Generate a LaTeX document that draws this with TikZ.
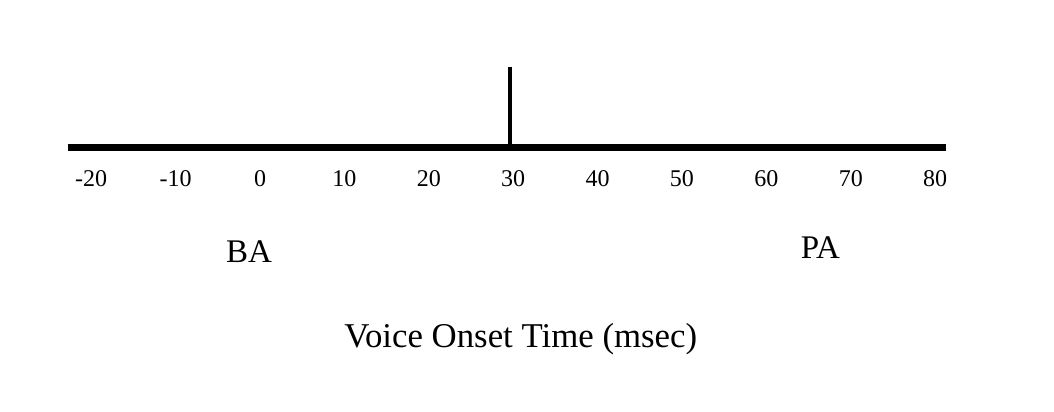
\documentclass[tikz,border=0pt]{standalone}
\usepackage{fontspec}
\setmainfont{Liberation Serif}
\usepackage{tikz}

\begin{document}
\begin{tikzpicture}[x=4.22pt,y=-0.5pt]
  \useasboundingbox (-30.81,0) rectangle (94.08,412);

  % Axis
  \coordinate (axl) at (-22.8,148);
  \coordinate (axr) at (81.3,148);
  \draw[line width=3.5pt] (axl) -- (axr);

  % Boundary at 30 msec
  \coordinate (bnd) at (29.6,67);
  \coordinate (bndbase) at (29.6,148);
  \draw[line width=2pt] (bnd) -- (bndbase);

  % Tick labels
  \foreach \x/\lab in {-20/-20,-10/-10,0/0,10/10,20/20,30/30,40/40,50/50,60/60,70/70,80/80}
    \node[font=\fontsize{12}{14}\selectfont] (lab\x) at (\x,179) {\lab};

  % Categories
  \node[font=\fontsize{16.5}{20}\selectfont] (ba) at (-1.3,252) {BA};
  \node[font=\fontsize{16.5}{20}\selectfont] (pa) at (66.4,248) {PA};

  \node[font=\fontsize{17.4}{20}\selectfont] (title) at (30.9,339) {Voice Onset Time (msec)};
\end{tikzpicture}
\end{document}
